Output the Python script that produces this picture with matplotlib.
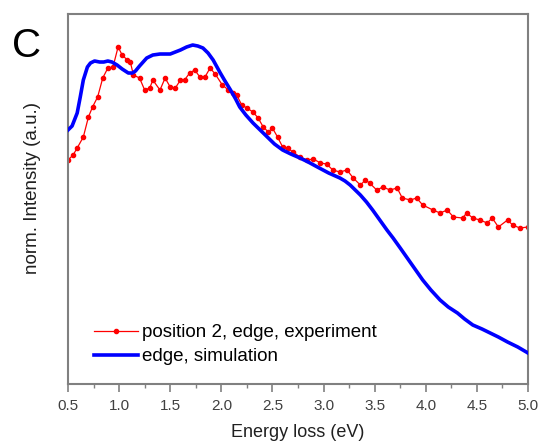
import numpy as np
import matplotlib
matplotlib.use("Agg")
import matplotlib.pyplot as plt
from matplotlib.ticker import MultipleLocator

plt.rcParams["font.family"] = ["Liberation Sans", "DejaVu Sans"]

# ── Data (intensity in arbitrary units) ───────────────────────────────────────
sim_energy = [0.50, 0.54, 0.59, 0.62, 0.65, 0.69, 0.72, 0.76, 0.81, 0.85,
              0.89, 0.93, 0.98, 1.03, 1.09, 1.13, 1.16, 1.20, 1.27, 1.33,
              1.40, 1.50, 1.60, 1.66, 1.72, 1.77, 1.82, 1.87, 1.92, 1.99,
              2.03, 2.09, 2.14, 2.18, 2.24, 2.31, 2.38, 2.45, 2.52, 2.60,
              2.68, 2.77, 2.85, 2.94, 3.05, 3.16, 3.21, 3.26, 3.31, 3.36,
              3.42, 3.48, 3.55, 3.62, 3.68, 3.75, 3.86, 3.97, 4.05, 4.14,
              4.22, 4.31, 4.38, 4.46, 4.55, 4.63, 4.71, 4.80, 4.90, 5.00]
sim_intensity = [254, 258, 271, 287, 304, 317, 321, 323, 322, 322,
                 323, 322, 319, 315, 311, 311, 313, 318, 326, 329,
                 330, 330, 334, 337, 339, 338, 336, 331, 324, 311,
                 304, 294, 285, 277, 269, 261, 254, 247, 240, 234,
                 230, 226, 222, 217, 211, 206, 203, 199, 194, 189,
                 182, 174, 164, 154, 146, 136, 120, 104, 94, 84,
                 77, 71, 65, 59, 55, 51, 47, 42, 37, 31]

exp_energy = [0.50, 0.55, 0.59, 0.65, 0.70, 0.74, 0.79, 0.84, 0.89, 0.94,
              0.99, 1.03, 1.08, 1.11, 1.14, 1.20, 1.25, 1.30, 1.33, 1.40,
              1.45, 1.50, 1.55, 1.60, 1.64, 1.69, 1.74, 1.79, 1.84, 1.89,
              1.94, 2.01, 2.07, 2.11, 2.15, 2.20, 2.25, 2.31, 2.36, 2.41,
              2.46, 2.50, 2.55, 2.60, 2.65, 2.70, 2.77, 2.84, 2.90, 2.97,
              3.03, 3.09, 3.16, 3.23, 3.29, 3.36, 3.41, 3.45, 3.52, 3.58,
              3.65, 3.72, 3.77, 3.85, 3.91, 3.97, 4.07, 4.14, 4.21, 4.27,
              4.36, 4.40, 4.46, 4.53, 4.60, 4.65, 4.71, 4.80, 4.85, 4.92,
              5.00]
exp_intensity = [224, 229, 236, 247, 267, 277, 287, 306, 316, 317,
                 337, 329, 324, 322, 309, 306, 294, 296, 304, 294,
                 306, 297, 296, 304, 304, 311, 314, 307, 307, 316,
                 310, 299, 294, 291, 289, 279, 276, 272, 266, 257,
                 252, 256, 247, 237, 236, 232, 227, 224, 225, 221,
                 220, 214, 212, 214, 206, 199, 204, 201, 194, 197,
                 194, 196, 186, 184, 186, 179, 174, 171, 174, 167,
                 166, 171, 166, 164, 161, 166, 157, 164, 159, 156,
                 157]

x_ticks = [0.5, 1.0, 1.5, 2.0, 2.5, 3.0, 3.5, 4.0, 4.5, 5.0]

# ── Plot ──────────────────────────────────────────────────────────────────────
fig = plt.figure(figsize=(5.4, 4.42), dpi=100)
ax = fig.add_axes([0.1259, 0.1312, 0.8519, 0.8371])

ax.plot(exp_energy, exp_intensity, color="#ff0000", lw=0.9,
        marker="o", ms=3.0, mec="#ff0000", mfc="#ff0000",
        label="position 2, edge, experiment", zorder=2)
ax.plot(sim_energy, sim_intensity, color="#0000ff", lw=2.6,
        solid_joinstyle="round", label="edge, simulation", zorder=3)

ax.set_xlim(0.5, 5.0)
ax.set_ylim(0, 370)
ax.set_xticks(x_ticks)
ax.set_xticklabels([f"{t:.1f}" for t in x_ticks])
ax.xaxis.set_minor_locator(MultipleLocator(0.25))
ax.set_yticks([])

for s in ax.spines.values():
    s.set_color("#808080")
    s.set_linewidth(1.5)

ax.tick_params(axis="x", which="major", direction="out", length=6,
               width=1.2, color="#808080", labelsize=11,
               labelcolor="#404040", pad=5)
ax.tick_params(axis="x", which="minor", direction="out", length=3,
               width=1.0, color="#808080")

ax.set_xlabel("Energy loss (eV)", fontsize=13, color="#202020", labelpad=8)
ax.set_ylabel("norm. Intensity (a.u.)", fontsize=13.5, color="#202020")
ax.yaxis.set_label_coords(-0.058, 0.53)

leg = ax.legend(loc="lower left", bbox_to_anchor=(0.041, 0.03), frameon=False,
                fontsize=13.5, numpoints=1, handlelength=2.35,
                handletextpad=0.2, labelspacing=0.38, borderaxespad=0)

fig.text(0.022, 0.871, "C", fontsize=29, color="black")

plt.savefig("out.png", dpi=100)
plt.close()
